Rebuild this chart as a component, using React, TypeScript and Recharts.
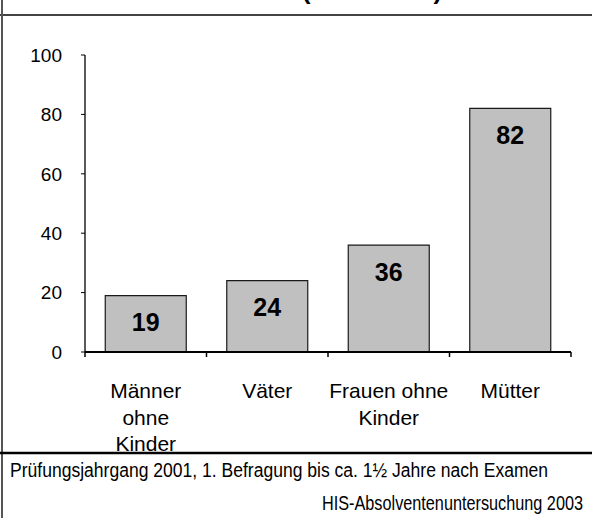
import React from 'react';
import { BarChart, Bar, XAxis, YAxis, LabelList } from 'recharts';

const categories = ['Männer ohne Kinder', 'Väter', 'Frauen ohne Kinder', 'Mütter'];
const categoryLines = [['Männer', 'ohne', 'Kinder'], ['Väter'], ['Frauen ohne', 'Kinder'], ['Mütter']];
const values = [19, 24, 36, 82];
const yTicks = [0, 20, 40, 60, 80, 100];
const titleTail = '(in Prozent)';
const footnote = 'Prüfungsjahrgang 2001, 1. Befragung bis ca. 1½ Jahre nach Examen';
const source = 'HIS-Absolventenuntersuchung 2003';

const data = categories.map((name, i) => ({ name, value: values[i], lines: categoryLines[i] }));

const FONT = '"Liberation Sans", Arial, Helvetica, sans-serif';

// category label under each band, tick marks at the band edges
const CategoryTick = (props: any) => {
  const { x, y, payload, index, visibleTicksCount } = props;
  const half = payload && typeof payload.offset === 'number' ? payload.offset : 60;
  const lines = categoryLines[index] || [String(payload.value)];
  const axisY = y - 5;
  const isLast = index === (visibleTicksCount ?? categories.length) - 1;
  return (
    <g>
      <line x1={x - half} x2={x - half} y1={axisY} y2={axisY + 5} stroke="#000" strokeWidth={1.5} />
      {isLast && (
        <line x1={x + half} x2={x + half} y1={axisY} y2={axisY + 5} stroke="#000" strokeWidth={1.5} />
      )}
      {lines.map((l: string, i: number) => (
        <text
          key={i}
          x={x}
          y={axisY + 46.3 + i * 26.3}
          textAnchor="middle"
          fontSize={21}
          fontFamily={FONT}
          fill="#000"
        >
          {l}
        </text>
      ))}
    </g>
  );
};

const BarValue = (props: any) => {
  const { x, y, width, value } = props;
  return (
    <text
      x={x + width / 2}
      y={y + 35.5}
      textAnchor="middle"
      fontSize={25}
      fontWeight="bold"
      fontFamily={FONT}
      fill="#000"
    >
      {value}
    </text>
  );
};

export default function App() {
  return (
    <div style={{ position: 'absolute', left: 0, top: 0, width: 592, height: 518, background: '#fff', fontFamily: FONT }}>
      <BarChart
        width={592}
        height={518}
        data={data}
        margin={{ top: 55, right: 21, left: 0, bottom: 0 }}
        barCategoryGap="16.67%"
      >
        <YAxis
          width={85}
          domain={[0, 100]}
          ticks={yTicks}
          interval={0}
          tickSize={4}
          tickMargin={19}
          axisLine={{ stroke: '#000', strokeWidth: 1.3 }}
          tickLine={{ stroke: '#000', strokeWidth: 1 }}
          tick={{ fill: '#000', fontSize: 19, fontFamily: FONT }}
        />
        <XAxis
          dataKey="name"
          height={166}
          interval={0}
          tickSize={5}
          tickMargin={0}
          tickLine={false}
          axisLine={{ stroke: '#000', strokeWidth: 2 }}
          tick={<CategoryTick />}
        />
        <Bar dataKey="value" fill="#c0c0c0" stroke="#1a1a1a" strokeWidth={1.2} isAnimationActive={false}>
          <LabelList dataKey="value" content={<BarValue />} />
        </Bar>
      </BarChart>
      <svg
        width={592}
        height={518}
        style={{ position: 'absolute', left: 0, top: 0, pointerEvents: 'none' }}
      >
        <text x={302} y={-1} fontSize={24} fontWeight="bold" fontFamily={FONT} textLength={140} lengthAdjust="spacingAndGlyphs">
          {titleTail}
        </text>
        <line x1={0} x2={592} y1={15} y2={15} stroke="#444" strokeWidth={2} />
        <line x1={2} x2={2} y1={0} y2={518} stroke="#555" strokeWidth={2} />
        <line x1={0} x2={592} y1={453} y2={453} stroke="#000" strokeWidth={2.5} />
        <g transform="translate(10 477) scale(1 1.17)">
          <text x={0} y={0} fontSize={18} fontFamily={FONT} fill="#000" textLength={538} lengthAdjust="spacingAndGlyphs">
            {footnote}
          </text>
        </g>
        <g transform="translate(583 510) scale(1 1.22)">
          <text x={0} y={0} fontSize={16.5} fontFamily={FONT} fill="#000" textAnchor="end" textLength={261} lengthAdjust="spacingAndGlyphs">
            {source}
          </text>
        </g>
      </svg>
    </div>
  );
}
